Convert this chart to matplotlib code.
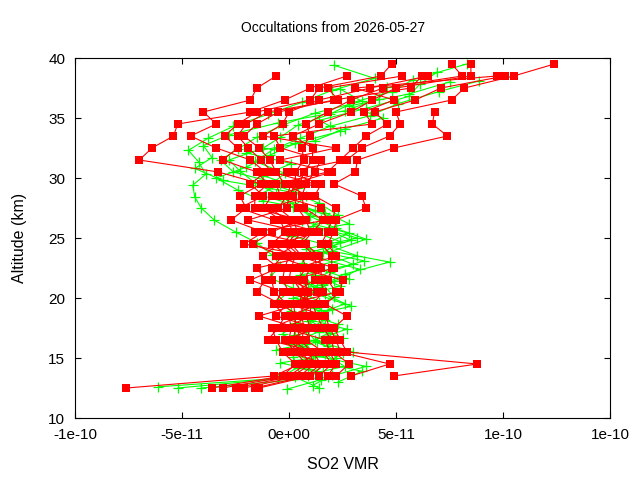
"""
SO2 VMR occultation profiles for one day, gnuplot-like look.
Red: 1 km retrieval grid (squares), green: fine-grid profiles (plus markers).
Values are in units of 1e-11 VMR.
"""

import matplotlib
matplotlib.use("Agg")
import matplotlib.pyplot as plt
import numpy as np

nan = np.nan
SCALE = 1e-11

TITLE = "Occultations from 2026-05-27"
X_TICKS = [-10, -5, 0, 5, 10, 15]
X_TICK_LABELS = ["-1e-10", "-5e-11", "0e+00", "5e-11", "1e-10", "1e-10"]
Y_TICKS = [10, 15, 20, 25, 30, 35, 40]

# retrieval grid of the red profiles (km)
RED_ALT = [12.5, 13.5, 14.5, 15.5, 16.5, 17.5, 18.5, 19.5, 20.5, 21.5,
           22.5, 23.5, 24.5, 25.5, 26.5, 27.5, 28.5, 29.5, 30.5, 31.5,
           32.5, 33.5, 34.5, 35.5, 36.5, 37.5, 38.5, 39.5]

# red profiles, bottom (12.5 km) to top (39.5 km)
RED_01 = [-7.6, -0.7, 0.5, 1.3, -1.0, -0.5, -0.2, -0.7, -0.3, -1.8, -0.5, -1.2, -0.5, 1.4,
          -0.7, -2.3, -1.2, -1.8, -1.1, -1.8, -3.4, -4.6, -3.4, -4.0, -1.8, -1.5, -0.6, nan]
RED_02 = [-3.6, -0.3, 0.3, -0.3, -0.6, -0.8, 0.5, -0.4, -1.5, -1.1, -1.5, 0.9, -2.1, -1.2,
          -2.7, -2.0, -2.3, -1.3, -3.3, -7.0, -6.4, -5.4, -5.2, -1.8, -0.2, 1.0, 2.7, nan]
RED_03 = [-3.1, 0.0, 0.8, 0.3, -0.2, 1.3, -0.6, -0.1, -0.7, -0.8, -0.8, -0.3, -1.7, -0.8,
          0.5, -1.6, -1.6, -1.0, -1.5, -3.1, -2.4, -3.0, -2.4, -1.5, 1.0, 1.4, 4.3, 4.8]
RED_04 = [-2.5, 0.2, 1.0, 0.6, 0.0, 0.1, 0.0, 1.4, 0.0, -0.3, -0.2, 0.0, -0.8, -0.2,
          -0.4, -1.2, -0.8, 1.2, -0.8, -1.3, -1.9, -2.4, -2.0, -1.0, 2.3, 1.8, 5.3, nan]
RED_05 = [-2.1, 0.5, 1.2, 0.9, 0.2, 0.3, 0.3, 0.2, 1.3, 0.0, 0.1, 0.3, -0.3, 0.2,
          -0.1, -0.9, 0.9, -0.2, -0.6, -0.9, -1.4, -2.1, -1.5, -0.5, 2.1, 5.7, 6.2, nan]
RED_06 = [-1.6, 0.8, 1.5, 1.1, 0.5, 0.4, -1.4, 0.5, 0.6, 0.2, 2.1, 0.5, -0.1, 0.4,
          0.2, -0.5, -0.1, 0.1, 2.0, -0.4, 2.2, -1.2, -0.3, 0.0, 1.4, 3.8, 6.5, nan]
RED_07 = [-1.4, 1.0, 1.7, 0.0, 0.6, 0.7, 0.6, 0.6, 0.8, 0.4, 0.8, 0.6, 0.1, 0.6,
          -1.9, -0.1, 0.0, 0.3, 0.3, 0.7, 0.6, 1.0, 0.8, 1.8, 2.9, 4.4, 8.1, 7.6]
RED_08 = [nan, 1.4, 2.0, 1.6, 0.8, 1.0, 0.8, 0.8, 0.9, 0.7, 1.0, -0.6, 0.4, 1.0,
          0.8, 0.4, 0.2, 0.5, 0.7, 1.1, 1.1, 0.2, 1.4, 2.9, 3.9, 5.0, 8.5, 8.5]
RED_09 = [nan, 1.8, 2.2, 1.9, 1.7, -0.2, 1.0, 1.0, 0.3, 1.2, 1.3, 1.2, 0.6, 1.1,
          1.6, 0.7, 0.6, 0.8, 1.2, 1.5, -0.4, -0.7, 3.9, 3.5, 4.9, 3.1, 9.7, nan]
RED_10 = [nan, 2.2, 2.8, 2.1, 2.0, 1.6, 1.3, 1.1, 1.6, 1.5, 1.5, 1.4, 0.8, -1.6,
          1.8, 1.5, -0.4, -0.6, 1.8, 2.4, 3.0, 3.6, 4.6, 4.0, 5.9, 7.1, 10.1, nan]
RED_11 = [nan, 2.9, 4.7, 2.4, 2.2, 1.9, 1.7, 0.0, 2.2, 1.8, 2.0, 2.0, 1.5, 1.8,
          2.0, 2.2, 1.2, 1.5, -0.1, 2.7, 3.4, 4.7, 5.2, 5.0, 7.6, 8.2, 10.5, 12.4]
RED_12 = [nan, 4.9, 8.8, 2.7, 2.4, 2.1, 2.7, 1.7, 2.4, 2.5, 0.4, 2.2, 1.8, 2.1,
          2.2, 3.6, 3.4, 2.1, 3.1, 3.2, 4.9, 7.4, 6.7, 6.8, nan, nan, nan, nan]

# green fine-grid profiles: altitude (km) and value
GREEN_01_ALT = [12.6, 13.3, 14.2, 15.1, 16.0, 17.0, 17.9, 18.9, 19.8, 20.8, 21.7, 22.7, 23.6, 24.6,
                25.5, 26.5, 27.5, 28.4, 29.4, 30.3, 31.3, 32.3, 33.3, 34.3, 35.3, 36.3, 37.3, 38.3, 39.4]
GREEN_01 = [-6.1, -0.5, 0.4, 0.2, 0.6, -0.3, 0.3, 0.1, -0.5, 0.2, -0.9, -0.4, -0.8, -1.5,
            -2.5, -3.5, -4.1, -4.4, -4.5, -3.9, -4.2, -4.7, -3.8, -2.6, -1.0, 0.6, 2.0, 4.0, 2.1]
GREEN_02_ALT = [12.5, 13.5, 14.4, 15.4, 16.3, 17.3, 18.2, 19.2, 20.1, 21.1, 22.0, 23.0, 23.9, 24.9,
                25.8, 26.8, 27.7, 28.7, 29.6, 30.6, 31.5, 32.5, 33.4, 34.4, 35.3, 36.3, 37.2, 38.2, 39.5]
GREEN_02 = [-5.2, 0.9, 1.6, 2.5, 1.3, 0.8, 1.7, 1.2, 2.1, 1.6, 2.6, 4.7, 2.0, 3.6,
            2.2, 1.0, 0.3, -0.6, -1.6, -2.3, -2.8, -1.2, -0.4, 0.4, 1.9, 3.0, 4.8, 5.8, 8.3]
GREEN_03_ALT = [12.5, 13.4, 14.3, 15.2, 16.2, 17.1, 18.1, 19.0, 20.0, 20.9, 21.9, 22.8, 23.8, 24.7,
                25.7, 26.6, 27.6, 28.5, 29.5, 30.4, 31.4, 32.4, 33.3, 34.3, 35.2, 36.2, 37.2, 38.1]
GREEN_03 = [-4.1, 1.8, 3.6, 1.2, 0.8, 1.9, 1.0, 1.5, 0.7, 1.3, 0.5, 3.0, 1.6, 2.4,
            0.9, 1.5, 0.2, 0.8, -0.8, -0.2, -1.6, -0.7, 0.5, 1.9, 3.8, 5.1, 7.0, 8.9]
GREEN_04_ALT = [12.4, 13.2, 14.1, 15.0, 16.0, 16.9, 17.8, 18.8, 19.7, 20.7, 21.6, 22.6, 23.5, 24.5,
                25.4, 26.4, 27.3, 28.3, 29.2, 30.2, 31.2, 32.1, 33.1, 34.1, 35.0, 36.0, 37.0, 38.0]
GREEN_04 = [-0.1, 1.5, 0.9, 2.2, 1.8, 0.3, 2.3, 0.6, 1.4, 0.4, 2.8, 1.1, 3.2, 1.7,
            2.8, 0.6, 1.2, -0.3, 0.4, -1.2, 0.1, -2.0, 1.2, 2.6, 4.4, 2.8, 5.6, 7.5]
GREEN_05_ALT = [12.5, 13.4, 14.3, 15.3, 16.2, 17.2, 18.1, 19.1, 20.0, 21.0, 21.9, 22.9, 23.8, 24.8,
                25.7, 26.7, 27.6, 28.6, 29.5, 30.5, 31.5, 32.4, 33.4, 34.4, 35.4, 36.4, 37.4]
GREEN_05 = [1.4, 0.3, 2.6, 1.7, 0.1, 1.4, 0.9, 2.0, 0.2, 2.4, 1.2, 0.6, 1.0, 2.9,
            1.8, 2.1, 0.6, -1.4, -0.4, -2.6, -3.2, -2.4, -1.5, -0.3, 1.2, 3.4, 2.4]
GREEN_06_ALT = [13.0, 13.9, 14.8, 15.7, 16.7, 17.6, 18.6, 19.5, 20.5, 21.4, 22.4, 23.3, 24.3, 25.2,
                26.2, 27.1, 28.1, 29.0, 30.0, 30.9, 31.9, 32.9, 33.9, 34.8, 35.8, 36.8, 37.8, 38.8]
GREEN_06 = [2.3, 3.4, 1.1, -0.6, 2.5, 0.9, 1.2, 2.6, 1.0, 2.1, 3.3, 1.4, 2.0, 0.1,
            2.8, 1.7, -1.2, -2.4, -3.4, -2.0, -0.9, 0.3, 2.4, 1.4, 3.6, 5.6, 6.1, 6.9]
GREEN_07_ALT = [12.7, 13.6, 14.6, 15.5, 16.5, 17.4, 18.4, 19.3, 20.3, 21.2, 22.2, 23.1, 24.1, 25.0,
                26.0, 26.9, 27.9, 28.8, 29.8, 30.8, 31.7, 32.7, 33.6, 34.6, 35.6, 36.6, 37.6]
GREEN_07 = [1.1, 2.0, -0.4, 3.0, 1.2, 2.7, 0.5, 2.9, 1.7, 0.9, 1.9, 3.5, 0.8, 3.2,
            1.1, 2.3, 1.4, 0.2, -3.1, -4.4, -3.6, -4.0, -2.8, -0.5, 2.6, 4.2, 4.6]

red_profiles = [RED_01, RED_02, RED_03, RED_04, RED_05, RED_06,
                RED_07, RED_08, RED_09, RED_10, RED_11, RED_12]
green_profiles = [(GREEN_01_ALT, GREEN_01), (GREEN_02_ALT, GREEN_02), (GREEN_03_ALT, GREEN_03),
                  (GREEN_04_ALT, GREEN_04), (GREEN_05_ALT, GREEN_05), (GREEN_06_ALT, GREEN_06),
                  (GREEN_07_ALT, GREEN_07)]

plt.rcParams["font.family"] = ["Liberation Sans", "DejaVu Sans"]
plt.rcParams["font.size"] = 11

fig = plt.figure(figsize=(6.4, 4.8), dpi=100)
ax = fig.add_axes([75 / 640, 62 / 480, 535 / 640, 360 / 480])

# green first, red on top
for alt, vals in green_profiles:
    ax.plot(np.array(vals) * SCALE, alt, color="#00ff00", linewidth=0.8,
            marker="+", markersize=7, markeredgewidth=0.9)

alt = np.array(RED_ALT)
for prof in red_profiles:
    x = np.array(prof)
    ok = ~np.isnan(x)  # skip missing levels but keep the line joined
    ax.plot(x[ok] * SCALE, alt[ok], color="#ff0000", linewidth=0.8,
            marker="s", markersize=5.5, markeredgewidth=0)

ax.set_xlim(-10 * SCALE, 15 * SCALE)
ax.set_ylim(10, 40)
ax.set_xticks(np.array(X_TICKS) * SCALE)
ax.set_xticklabels(X_TICK_LABELS)
ax.set_yticks(Y_TICKS)
ax.tick_params(direction="in", length=4, width=0.8, top=True, right=True, pad=7, labelsize=11)
for s in ax.spines.values():
    s.set_linewidth(0.8)

ax.set_xlabel("SO2 VMR", fontsize=11.5, labelpad=11)
ax.set_ylabel("Altitude (km)", fontsize=11.5, labelpad=15)
ax.set_title(TITLE, fontsize=10, pad=19, x=0.483)

fig.savefig("out.png", dpi=100)
